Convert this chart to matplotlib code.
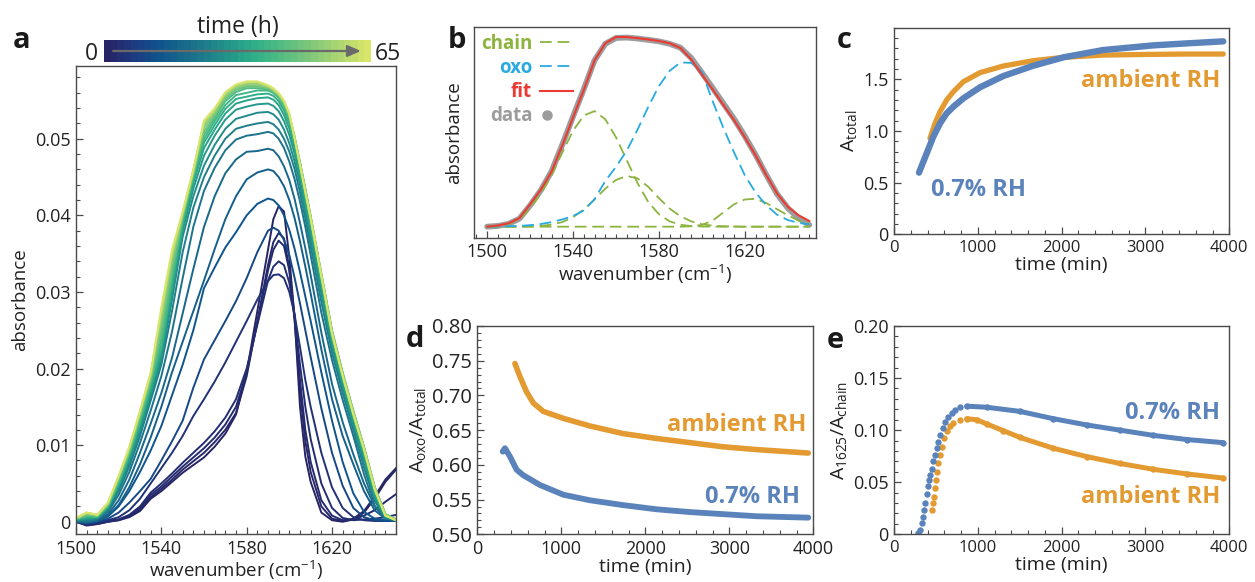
import matplotlib
matplotlib.use("Agg")
import matplotlib as mpl
import matplotlib.pyplot as plt
import numpy as np
from matplotlib.colors import LinearSegmentedColormap, ListedColormap, Normalize
from matplotlib.ticker import MultipleLocator, FixedLocator
from matplotlib.lines import Line2D
from matplotlib.legend_handler import HandlerLine2D

plt.rcParams['font.family'] = ['Open Sans', 'DejaVu Sans']
plt.rcParams['mathtext.fontset'] = 'custom'
plt.rcParams['mathtext.rm'] = 'Open Sans'
plt.rcParams['mathtext.it'] = 'Open Sans:italic'
plt.rcParams['text.color'] = '#222222'
plt.rcParams['axes.labelcolor'] = '#222222'

# ---------------- panel a: spectra recorded over 65 h ----------------
wavenumber_a = [1500, 1505, 1510, 1515, 1520, 1525, 1530, 1535, 1540, 1545, 1550, 1555,
                1560, 1565, 1570, 1575, 1580, 1585, 1590, 1592.5, 1595, 1597.5, 1600,
                1602.5, 1605, 1607.5, 1610, 1615, 1620, 1625, 1630, 1635, 1640, 1645, 1650]

abs_0h = [0.0000, -0.0004, -0.0003, 0.0000, 0.0002, 0.0006, 0.0014, 0.0030, 0.0040, 0.0052, 0.0064, 0.0074,
          0.0084, 0.0098, 0.0115, 0.0140, 0.0195, 0.0275, 0.0355, 0.0395, 0.0412, 0.0405, 0.0345,
          0.0265, 0.0150, 0.0085, 0.0052, 0.0012, 0.0002, 0.0000, 0.0003, 0.0012, 0.0030, 0.0052, 0.0068]
abs_1h = [0.0000, -0.0005, -0.0003, 0.0000, 0.0002, 0.0007, 0.0016, 0.0032, 0.0043, 0.0055, 0.0068, 0.0079,
          0.0090, 0.0104, 0.0120, 0.0142, 0.0190, 0.0262, 0.0335, 0.0365, 0.0377, 0.0370, 0.0330,
          0.0262, 0.0170, 0.0105, 0.0065, 0.0020, 0.0004, 0.0001, 0.0004, 0.0014, 0.0033, 0.0055, 0.0070]
abs_2h = [0.0001, -0.0004, -0.0002, 0.0001, 0.0003, 0.0008, 0.0018, 0.0035, 0.0046, 0.0059, 0.0072, 0.0084,
          0.0096, 0.0110, 0.0127, 0.0150, 0.0195, 0.0260, 0.0328, 0.0355, 0.0367, 0.0360, 0.0328,
          0.0268, 0.0185, 0.0120, 0.0078, 0.0028, 0.0008, 0.0002, 0.0003, 0.0008, 0.0015, 0.0026, 0.0036]
abs_3h = [0.0000, -0.0004, -0.0002, 0.0001, 0.0003, 0.0009, 0.0020, 0.0038, 0.0050, 0.0063, 0.0077, 0.0090,
          0.0103, 0.0118, 0.0136, 0.0160, 0.0200, 0.0257, 0.0315, 0.0333, 0.0340, 0.0335, 0.0312,
          0.0268, 0.0205, 0.0150, 0.0108, 0.0050, 0.0018, 0.0005, 0.0002, 0.0003, 0.0004, 0.0006, 0.0009]
abs_4h = [0.0000, -0.0003, -0.0001, 0.0002, 0.0006, 0.0015, 0.0030, 0.0050, 0.0070, 0.0090, 0.0112, 0.0138,
          0.0160, 0.0183, 0.0208, 0.0235, 0.0262, 0.0290, 0.0314, 0.0322, 0.0323, 0.0318, 0.0300,
          0.0270, 0.0228, 0.0185, 0.0150, 0.0090, 0.0045, 0.0018, 0.0006, 0.0002, 0.0001, 0.0001, 0.0001]
abs_10h = [0.0000, -0.0002, 0.0000, 0.0004, 0.0012, 0.0025, 0.0040, 0.0056, 0.0080, 0.0105, 0.0132, 0.0175,
           0.0212, 0.0237, 0.0262, 0.0288, 0.0318, 0.0352, 0.0380, 0.0384, 0.0380, 0.0368, 0.0348,
           0.0318, 0.0285, 0.0250, 0.0215, 0.0148, 0.0090, 0.0047, 0.0018, 0.0006, 0.0002, 0.0001, 0.0001]
abs_13h = [0.0000, -0.0001, 0.0001, 0.0007, 0.0020, 0.0040, 0.0065, 0.0093, 0.0125, 0.0165, 0.0205, 0.0250,
           0.0305, 0.0332, 0.0358, 0.0378, 0.0400, 0.0415, 0.0422, 0.0420, 0.0413, 0.0400, 0.0381,
           0.0356, 0.0326, 0.0294, 0.0262, 0.0195, 0.0132, 0.0078, 0.0037, 0.0013, 0.0004, 0.0002, 0.0001]
abs_16h = [0.0000, -0.0001, 0.0001, 0.0008, 0.0022, 0.0045, 0.0075, 0.0110, 0.0150, 0.0195, 0.0235, 0.0275,
           0.0315, 0.0356, 0.0395, 0.0425, 0.0447, 0.0456, 0.0460, 0.0458, 0.0450, 0.0438, 0.0420,
           0.0396, 0.0366, 0.0333, 0.0298, 0.0225, 0.0160, 0.0112, 0.0075, 0.0040, 0.0015, 0.0004, 0.0002]
abs_19h = [0.0000, -0.0001, 0.0002, 0.0010, 0.0028, 0.0055, 0.0090, 0.0128, 0.0168, 0.0214, 0.0272, 0.0330,
           0.0385, 0.0425, 0.0455, 0.0473, 0.0483, 0.0484, 0.0487, 0.0485, 0.0477, 0.0464, 0.0446,
           0.0421, 0.0390, 0.0357, 0.0322, 0.0247, 0.0180, 0.0130, 0.0088, 0.0050, 0.0020, 0.0005, 0.0002]
abs_22h = [0.0001, 0.0000, 0.0003, 0.0013, 0.0035, 0.0065, 0.0103, 0.0145, 0.0190, 0.0248, 0.0318, 0.0385,
           0.0432, 0.0462, 0.0485, 0.0499, 0.0504, 0.0506, 0.0509, 0.0507, 0.0500, 0.0488, 0.0470,
           0.0447, 0.0418, 0.0385, 0.0348, 0.0273, 0.0211, 0.0159, 0.0112, 0.0062, 0.0021, 0.0004, 0.0002]
abs_25h = [0.0002, 0.0002, 0.0004, 0.0015, 0.0040, 0.0072, 0.0112, 0.0158, 0.0205, 0.0275, 0.0352, 0.0410,
           0.0450, 0.0478, 0.0500, 0.0513, 0.0517, 0.0520, 0.0522, 0.0519, 0.0512, 0.0500, 0.0483,
           0.0460, 0.0430, 0.0396, 0.0360, 0.0287, 0.0221, 0.0168, 0.0120, 0.0071, 0.0027, 0.0005, 0.0002]
abs_28h = [0.0002, 0.0003, 0.0005, 0.0017, 0.0043, 0.0077, 0.0118, 0.0163, 0.0211, 0.0290, 0.0372, 0.0425,
           0.0465, 0.0492, 0.0513, 0.0526, 0.0530, 0.0534, 0.0535, 0.0532, 0.0525, 0.0512, 0.0494,
           0.0470, 0.0440, 0.0405, 0.0370, 0.0298, 0.0229, 0.0175, 0.0127, 0.0078, 0.0031, 0.0006, 0.0002]
abs_31h = [0.0002, 0.0004, 0.0005, 0.0018, 0.0046, 0.0081, 0.0122, 0.0168, 0.0217, 0.0298, 0.0380, 0.0435,
           0.0478, 0.0504, 0.0525, 0.0538, 0.0542, 0.0545, 0.0546, 0.0543, 0.0536, 0.0523, 0.0505,
           0.0480, 0.0448, 0.0413, 0.0378, 0.0305, 0.0234, 0.0180, 0.0131, 0.0083, 0.0034, 0.0007, 0.0002]
abs_34h = [0.0003, 0.0005, 0.0006, 0.0019, 0.0048, 0.0084, 0.0126, 0.0172, 0.0222, 0.0304, 0.0386, 0.0442,
           0.0488, 0.0512, 0.0533, 0.0546, 0.0550, 0.0553, 0.0554, 0.0551, 0.0544, 0.0531, 0.0513,
           0.0487, 0.0455, 0.0420, 0.0385, 0.0311, 0.0238, 0.0184, 0.0134, 0.0087, 0.0036, 0.0007, 0.0002]
abs_37h = [0.0003, 0.0006, 0.0006, 0.0020, 0.0050, 0.0087, 0.0129, 0.0176, 0.0227, 0.0310, 0.0390, 0.0447,
           0.0495, 0.0518, 0.0539, 0.0552, 0.0555, 0.0558, 0.0559, 0.0556, 0.0549, 0.0537, 0.0519,
           0.0493, 0.0460, 0.0425, 0.0390, 0.0315, 0.0241, 0.0187, 0.0137, 0.0090, 0.0039, 0.0008, 0.0002]
abs_40h = [0.0003, 0.0007, 0.0007, 0.0021, 0.0052, 0.0089, 0.0132, 0.0180, 0.0232, 0.0315, 0.0393, 0.0450,
           0.0500, 0.0523, 0.0544, 0.0557, 0.0560, 0.0563, 0.0563, 0.0560, 0.0553, 0.0541, 0.0524,
           0.0497, 0.0463, 0.0428, 0.0393, 0.0318, 0.0244, 0.0189, 0.0139, 0.0092, 0.0041, 0.0008, 0.0002]
abs_43h = [0.0004, 0.0008, 0.0007, 0.0021, 0.0053, 0.0090, 0.0134, 0.0182, 0.0240, 0.0322, 0.0396, 0.0452,
           0.0505, 0.0527, 0.0549, 0.0561, 0.0566, 0.0566, 0.0564, 0.0560, 0.0554, 0.0544, 0.0528,
           0.0500, 0.0468, 0.0434, 0.0398, 0.0323, 0.0249, 0.0194, 0.0144, 0.0097, 0.0045, 0.0010, 0.0003]
abs_47h = [0.0004, 0.0009, 0.0008, 0.0022, 0.0055, 0.0092, 0.0137, 0.0185, 0.0250, 0.0330, 0.0398, 0.0454,
           0.0510, 0.0530, 0.0552, 0.0564, 0.0568, 0.0568, 0.0566, 0.0562, 0.0556, 0.0546, 0.0530,
           0.0502, 0.0469, 0.0435, 0.0399, 0.0324, 0.0250, 0.0195, 0.0145, 0.0098, 0.0046, 0.0010, 0.0003]
abs_51h = [0.0004, 0.0010, 0.0008, 0.0023, 0.0057, 0.0094, 0.0140, 0.0188, 0.0260, 0.0338, 0.0400, 0.0456,
           0.0515, 0.0533, 0.0555, 0.0566, 0.0570, 0.0570, 0.0567, 0.0563, 0.0557, 0.0547, 0.0531,
           0.0502, 0.0469, 0.0434, 0.0398, 0.0323, 0.0249, 0.0194, 0.0144, 0.0097, 0.0045, 0.0010, 0.0003]
abs_55h = [0.0005, 0.0011, 0.0009, 0.0024, 0.0058, 0.0096, 0.0142, 0.0191, 0.0268, 0.0345, 0.0402, 0.0458,
           0.0519, 0.0536, 0.0558, 0.0568, 0.0572, 0.0572, 0.0568, 0.0564, 0.0558, 0.0548, 0.0532,
           0.0501, 0.0467, 0.0432, 0.0397, 0.0322, 0.0247, 0.0192, 0.0142, 0.0096, 0.0044, 0.0009, 0.0002]
abs_60h = [0.0005, 0.0012, 0.0009, 0.0025, 0.0059, 0.0097, 0.0144, 0.0193, 0.0274, 0.0350, 0.0404, 0.0459,
           0.0522, 0.0538, 0.0560, 0.0570, 0.0574, 0.0574, 0.0569, 0.0565, 0.0559, 0.0549, 0.0532,
           0.0500, 0.0466, 0.0431, 0.0396, 0.0321, 0.0246, 0.0191, 0.0141, 0.0095, 0.0043, 0.0008, 0.0002]
abs_65h = [0.0005, 0.0012, 0.0009, 0.0025, 0.0060, 0.0098, 0.0145, 0.0195, 0.0280, 0.0355, 0.0405, 0.0460,
           0.0524, 0.0540, 0.0561, 0.0571, 0.0575, 0.0575, 0.0570, 0.0566, 0.0560, 0.0550, 0.0533,
           0.0500, 0.0465, 0.0430, 0.0395, 0.0320, 0.0245, 0.0190, 0.0140, 0.0094, 0.0042, 0.0008, 0.0002]

spectrum_hours = [0, 1, 2, 3, 4, 10, 13, 16, 19, 22, 25, 28, 31, 34, 37, 40, 43, 47, 51, 55, 60, 65]
spectra = [abs_0h, abs_1h, abs_2h, abs_3h, abs_4h, abs_10h, abs_13h, abs_16h, abs_19h, abs_22h,
           abs_25h, abs_28h, abs_31h, abs_34h, abs_37h, abs_40h, abs_43h, abs_47h, abs_51h,
           abs_55h, abs_60h, abs_65h]

# ---------------- panel b: peak fit of one spectrum ----------------
wavenumber_b = [1500, 1505, 1510, 1515, 1520, 1525, 1530, 1535, 1540, 1545, 1550, 1555, 1560, 1565,
                1570, 1575, 1580, 1585, 1590, 1595, 1600, 1605, 1610, 1615, 1620, 1625, 1630, 1635,
                1640, 1645, 1650]
data_b = [0.000, 0.004, 0.015, 0.042, 0.112, 0.192, 0.292, 0.432, 0.580, 0.724, 0.875, 0.962, 0.993,
          0.995, 0.990, 0.983, 0.975, 0.962, 0.942, 0.888, 0.810, 0.730, 0.648, 0.567, 0.476, 0.378,
          0.272, 0.172, 0.098, 0.045, 0.010]
fit_b = [0.000, 0.006, 0.018, 0.045, 0.118, 0.195, 0.290, 0.428, 0.575, 0.720, 0.875, 0.965, 0.998,
         0.998, 0.992, 0.985, 0.977, 0.965, 0.940, 0.880, 0.800, 0.722, 0.640, 0.560, 0.470, 0.375,
         0.270, 0.175, 0.105, 0.060, 0.030]
chain_1 = [0.002, 0.005, 0.015, 0.040, 0.095, 0.175, 0.270, 0.390, 0.505, 0.585, 0.608, 0.565, 0.470,
           0.350, 0.230, 0.130, 0.065, 0.028, 0.010, 0.003, 0.001, 0.0, 0.0, 0.0, 0.0, 0.0, 0.0, 0.0,
           0.0, 0.0, 0.0]
chain_2 = [0.0, 0.0, 0.0, 0.0, 0.001, 0.004, 0.011, 0.024, 0.050, 0.091, 0.143, 0.200, 0.246, 0.267,
           0.254, 0.210, 0.150, 0.095, 0.055, 0.028, 0.013, 0.005, 0.002, 0.001, 0.0, 0.0, 0.0, 0.0,
           0.0, 0.0, 0.0]
chain_3 = [0.0, 0.0, 0.0, 0.0, 0.0, 0.0, 0.0, 0.0, 0.0, 0.0, 0.0, 0.0, 0.0, 0.0, 0.0, 0.0, 0.0, 0.0,
           0.0, 0.002, 0.009, 0.032, 0.075, 0.118, 0.143, 0.147, 0.124, 0.092, 0.060, 0.032, 0.013]
oxo = [0.000, 0.001, 0.002, 0.004, 0.008, 0.014, 0.024, 0.038, 0.056, 0.085, 0.145, 0.240, 0.315,
       0.400, 0.510, 0.630, 0.740, 0.820, 0.864, 0.862, 0.815, 0.660, 0.520, 0.390, 0.270, 0.180,
       0.112, 0.063, 0.035, 0.020, 0.012]

# ---------------- panels c-e: band areas versus time ----------------
time_c_dry = [298, 390, 469, 549, 628, 708, 827, 1026, 1304, 1662, 2020, 2497, 3093, 3491, 3928]
atotal_dry = [0.597, 0.784, 0.945, 1.074, 1.171, 1.235, 1.316, 1.423, 1.532, 1.632, 1.713, 1.784,
              1.829, 1.848, 1.868]
time_c_amb = [429, 489, 549, 628, 708, 827, 1026, 1304, 1662, 2020, 2497, 3093, 3491, 3928]
atotal_amb = [0.929, 1.074, 1.187, 1.300, 1.380, 1.477, 1.565, 1.629, 1.681, 1.713, 1.735, 1.742,
              1.745, 1.745]

time_d_dry = [302, 329, 389, 468, 548, 746, 1024, 1341, 1738, 2135, 2532, 2929, 3325, 3940]
oxo_frac_dry = [0.619, 0.624, 0.612, 0.593, 0.585, 0.571, 0.557, 0.549, 0.542, 0.536, 0.532, 0.529,
                0.526, 0.524]
time_d_amb = [448, 508, 587, 667, 786, 1024, 1341, 1738, 2135, 2532, 2929, 3325, 3940]
oxo_frac_amb = [0.746, 0.727, 0.705, 0.689, 0.677, 0.667, 0.656, 0.645, 0.638, 0.632, 0.626, 0.622,
                0.617]

time_e_dry = [290, 310, 330, 350, 362, 374, 390, 402, 414, 429, 449, 469, 489, 509, 529, 549, 580,
              608, 648, 688, 728, 787, 867, 1105, 1503, 1901, 2298, 2696, 3093, 3491, 3928]
ratio_1625_dry = [0.001, 0.004, 0.011, 0.017, 0.023, 0.030, 0.039, 0.046, 0.052, 0.057, 0.063, 0.070,
                  0.076, 0.083, 0.089, 0.095, 0.102, 0.108, 0.113, 0.116, 0.119, 0.122, 0.123, 0.122,
                  0.118, 0.111, 0.105, 0.100, 0.095, 0.091, 0.088]
time_e_amb = [449, 461, 473, 485, 497, 509, 529, 549, 569, 596, 628, 668, 708, 787, 867, 986, 1105,
              1304, 1503, 1901, 2298, 2696, 3093, 3491, 3928]
ratio_1625_amb = [0.023, 0.030, 0.036, 0.044, 0.052, 0.060, 0.068, 0.076, 0.084, 0.092, 0.099, 0.104,
                  0.107, 0.110, 0.111, 0.110, 0.106, 0.0995, 0.093, 0.0826, 0.0746, 0.068, 0.0624,
                  0.058, 0.054]

# ---------------- styling ----------------
BLUE = '#5b83bb'
ORANGE = '#e39a31'
GREEN = '#8cb43f'
CYAN = '#27aae1'
RED = '#ec3a33'
GREY = '#9c9c9c'
SPINE = '#4a4a4a'
W, H = 1255, 582

time_cmap = LinearSegmentedColormap.from_list('time', [
    (0.00, '#272466'), (0.10, '#1d3a80'), (0.20, '#0f548c'), (0.32, '#1b6f8b'),
    (0.45, '#22908a'), (0.55, '#2bac87'), (0.65, '#4bba84'), (0.78, '#7fc87a'),
    (0.90, '#b0d771'), (1.00, '#d9e66a')])


class LeftDotHandler(HandlerLine2D):
    """Legend handler that puts a single marker near the label instead of mid-handle."""
    def get_xdata(self, legend, xdescent, ydescent, width, height, fontsize):
        x = -xdescent + 0.22 * width
        return np.array([x, x]), np.array([x])


def px_axes(x0, y0, x1, y1):
    return fig.add_axes([x0 / W, 1 - y1 / H, (x1 - x0) / W, (y1 - y0) / H])


def style(ax, xsize, ysize):
    for s in ax.spines.values():
        s.set_color(SPINE)
        s.set_linewidth(1.0)
    ax.tick_params(which='both', direction='in', top=False, right=False, color=SPINE,
                   labelcolor='#222222')
    ax.tick_params(which='major', length=5, width=0.9)
    ax.tick_params(which='minor', length=2.6, width=0.8)
    ax.tick_params(axis='x', labelsize=xsize, pad=4)
    ax.tick_params(axis='y', labelsize=ysize, pad=4)


def time_axis(ax):
    ax.set_xlim(0, 4000)
    ax.xaxis.set_major_locator(FixedLocator([0, 1000, 2000, 3000, 4000]))
    ax.set_xticklabels(['0', '1000', '2000', '3000', '4000'])
    ax.xaxis.set_minor_locator(MultipleLocator(200))
    ax.set_xlabel('time (min)', fontsize=14, labelpad=0)


fig = plt.figure(figsize=(W / 100, H / 100), dpi=100)

# ---- a ----
ax_a = px_axes(76, 66, 396, 534)
for hours, spec in zip(spectrum_hours, spectra):
    ax_a.plot(wavenumber_a, spec, color=time_cmap(hours / 65), lw=1.4, solid_joinstyle='round')
ax_a.set_xlim(1500, 1650)
ax_a.set_ylim(-0.0016, 0.0595)
ax_a.xaxis.set_major_locator(FixedLocator([1500, 1540, 1580, 1620]))
ax_a.xaxis.set_minor_locator(MultipleLocator(5))
ax_a.yaxis.set_major_locator(FixedLocator([0, 0.01, 0.02, 0.03, 0.04, 0.05]))
ax_a.set_yticklabels(['0', '0.01', '0.02', '0.03', '0.04', '0.05'])
ax_a.yaxis.set_minor_locator(MultipleLocator(0.002))
style(ax_a, 13, 13)
ax_a.set_xlabel('wavenumber (cm$\\mathregular{^{-1}}$)', fontsize=13.5, labelpad=1)
ax_a.set_ylabel('absorbance', fontsize=13.5, labelpad=4)

# time colour scale
cax = px_axes(104, 40, 371, 62)
steps = ListedColormap(time_cmap(np.linspace(0, 1, 40)))
cb = mpl.colorbar.ColorbarBase(cax, cmap=steps, norm=Normalize(0, 65), orientation='horizontal')
cb.outline.set_visible(False)
cax.set_xticks([])
cax.set_yticks([])
cax.annotate('', xy=(0.962, 0.5), xytext=(0.034, 0.5), xycoords='axes fraction',
             arrowprops=dict(arrowstyle='-|>,head_length=0.8,head_width=0.35', color='#6a6a6a',
                             lw=1.6, shrinkA=0, shrinkB=0))
fig.text(98 / W, 1 - 59.5 / H, '0', ha='right', va='baseline', fontsize=16.5)
fig.text(375 / W, 1 - 59.5 / H, '65', ha='left', va='baseline', fontsize=16.5)
fig.text(237.5 / W, 1 - 33 / H, 'time (h)', ha='center', va='baseline', fontsize=16.5)

# ---- b ----
ax_b = px_axes(474.3, 27.3, 815.7, 237.7)
ax_b.plot(wavenumber_b, data_b, color=GREY, lw=4.2, solid_capstyle='round', solid_joinstyle='round')
for comp in (chain_1, chain_2, chain_3):
    ax_b.plot(wavenumber_b, comp, color=GREEN, lw=1.3, dashes=(6.5, 3.2))
ax_b.plot(wavenumber_b, oxo, color=CYAN, lw=1.3, dashes=(6.5, 3.2))
ax_b.plot(wavenumber_b, fit_b, color=RED, lw=1.5)
ax_b.set_xlim(1494, 1653)
ax_b.set_ylim(-0.058, 1.049)
ax_b.xaxis.set_major_locator(FixedLocator([1500, 1540, 1580, 1620]))
ax_b.xaxis.set_minor_locator(MultipleLocator(5))
ax_b.set_yticks([])
style(ax_b, 13, 13)
ax_b.set_xlabel('wavenumber (cm$\\mathregular{^{-1}}$)', fontsize=13.5, labelpad=1)
ax_b.set_ylabel('absorbance', fontsize=13.5, labelpad=8)
data_handle = Line2D([], [], color=GREY, ls='none', marker='o', ms=6.5)
handles = [Line2D([], [], color=GREEN, lw=1.3, dashes=(6.5, 3.2)),
           Line2D([], [], color=CYAN, lw=1.3, dashes=(6.5, 3.2)),
           Line2D([], [], color=RED, lw=1.5),
           data_handle]
ax_b.legend(handles, ['chain', 'oxo', 'fit', 'data'], loc='upper left', bbox_to_anchor=(0.0, 1.0),
            frameon=False, markerfirst=False, handlelength=1.8, handletextpad=0.4,
            labelspacing=0.22, borderpad=0.25, borderaxespad=0.1,
            prop={'weight': 'bold', 'size': 13.5}, labelcolor=[GREEN, CYAN, RED, GREY],
            handler_map={data_handle: LeftDotHandler(numpoints=1)})

# ---- c ----
ax_c = px_axes(894, 27.7, 1229.3, 234.3)
ax_c.plot(time_c_amb, atotal_amb, color=ORANGE, lw=3.8, solid_capstyle='round', solid_joinstyle='round')
ax_c.plot(time_c_dry, atotal_dry, color=BLUE, lw=4.6, solid_capstyle='round', solid_joinstyle='round')
time_axis(ax_c)
ax_c.set_ylim(0, 2.0)
ax_c.yaxis.set_major_locator(FixedLocator([0, 0.5, 1.0, 1.5]))
ax_c.set_yticklabels(['0', '0.5', '1.0', '1.5'])
ax_c.yaxis.set_minor_locator(MultipleLocator(0.1))
style(ax_c, 12, 13)
ax_c.set_ylabel('$\\mathregular{A_{total}}$', fontsize=14, labelpad=3)
ax_c.text(3890, 1.48, 'ambient RH', color=ORANGE, fontsize=17, fontweight='bold', ha='right', va='center')
ax_c.text(440, 0.43, '0.7% RH', color=BLUE, fontsize=17, fontweight='bold', ha='left', va='center')

# ---- d ----
ax_d = px_axes(477.3, 326, 813.3, 534.3)
ax_d.plot(time_d_amb, oxo_frac_amb, color=ORANGE, lw=4.0, solid_capstyle='round', solid_joinstyle='round')
ax_d.plot(time_d_dry, oxo_frac_dry, color=BLUE, lw=4.2, solid_capstyle='round', solid_joinstyle='round')
time_axis(ax_d)
ax_d.set_ylim(0.5, 0.8)
ax_d.yaxis.set_major_locator(FixedLocator([0.50, 0.55, 0.60, 0.65, 0.70, 0.75, 0.80]))
ax_d.set_yticklabels(['0.50', '0.55', '0.60', '0.65', '0.70', '0.75', '0.80'])
ax_d.yaxis.set_minor_locator(MultipleLocator(0.01))
style(ax_d, 13, 14.5)
ax_d.set_ylabel('$\\mathregular{A_{oxo}/A_{total}}$', fontsize=14, labelpad=3)
ax_d.text(3920, 0.657, 'ambient RH', color=ORANGE, fontsize=17, fontweight='bold', ha='right', va='center')
ax_d.text(3840, 0.554, '0.7% RH', color=BLUE, fontsize=17, fontweight='bold', ha='right', va='center')

# ---- e ----
ax_e = px_axes(894, 326, 1229.3, 534.3)
k_amb = int(np.argmax(ratio_1625_amb))
k_dry = int(np.argmax(ratio_1625_dry))
ax_e.plot(time_e_amb[k_amb:], ratio_1625_amb[k_amb:], color=ORANGE, lw=3.6, solid_capstyle='round')
ax_e.plot(time_e_amb, ratio_1625_amb, 'o', color=ORANGE, ms=4.6, mew=0)
ax_e.plot(time_e_dry[k_dry:], ratio_1625_dry[k_dry:], color=BLUE, lw=3.6, solid_capstyle='round')
ax_e.plot(time_e_dry, ratio_1625_dry, 'o', color=BLUE, ms=4.6, mew=0)
time_axis(ax_e)
ax_e.set_ylim(0, 0.2)
ax_e.yaxis.set_major_locator(FixedLocator([0, 0.05, 0.10, 0.15, 0.20]))
ax_e.set_yticklabels(['0', '0.05', '0.10', '0.15', '0.20'])
ax_e.yaxis.set_minor_locator(MultipleLocator(0.01))
style(ax_e, 12, 13)
ax_e.set_ylabel('$\\mathregular{A_{1625}/A_{chain}}$', fontsize=14, labelpad=3)
ax_e.text(3890, 0.1165, '0.7% RH', color=BLUE, fontsize=17, fontweight='bold', ha='right', va='center')
ax_e.text(3890, 0.0361, 'ambient RH', color=ORANGE, fontsize=17, fontweight='bold', ha='right', va='center')

# panel letters
for letter, x, base in [('a', 13, 48.3), ('b', 448, 48.3), ('c', 837, 48.3),
                        ('d', 406, 346.7), ('e', 827, 347.7)]:
    fig.text(x / W, 1 - base / H, letter, fontsize=21, fontweight='bold', ha='left', va='baseline',
             color='#1a1a1a')

fig.savefig('out.png', dpi=100)
